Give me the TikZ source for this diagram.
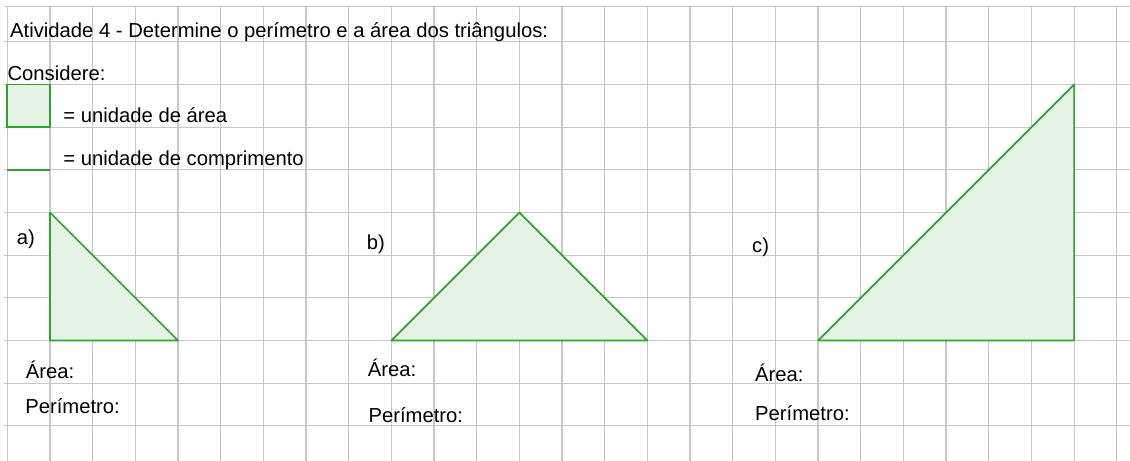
\documentclass[tikz,border=0pt]{standalone}
\usepackage{fontspec}
\setmainfont{Liberation Sans}
\usepackage{tikz}
\definecolor{verde}{RGB}{45,165,45}
\definecolor{verdeclaro}{RGB}{228,243,228}
\tikzstyle{grade} = [draw=black!22, line width=0.8pt]
\tikzstyle{texto} = [anchor=base west, inner sep=0pt, font=\fontsize{13.5}{16}\selectfont]
\tikzstyle{triangulo} = [draw=verde, fill=verdeclaro, line width=1.1pt, line join=round]
\tikzstyle{unidade} = [draw=verde, line width=1.1pt]

\begin{document}
\begin{tikzpicture}

\useasboundingbox (-0.171,-0.82) rectangle (26.31,9.98);

%% a malha quadriculada vai primeiro, por baixo de tudo
\foreach \x in {0,...,26}
  \draw [grade] (\x,-0.82) -- (\x,9.83);
\foreach \y in {0,...,9}
  \draw [grade] (-0.08,\y) -- (26.31,\y);
\draw [grade] (-0.08,9.83) -- (26.31,9.83);

\node (titulo) [texto] at (0.06,9.10) {Atividade 4 - Determine o perímetro e a área dos triângulos:};
\node (considere) [texto] at (0,8.085) {Considere:};

\filldraw [unidade, fill=verdeclaro] (0,7) rectangle (1,8);
\node (uarea) [texto] at (1.31,7.11) {= unidade de área};
\coordinate (u1) at (0,6);
\coordinate (u2) at (1,6);
\draw [unidade] (u1) -- (u2);
\node (ucomp) [texto] at (1.31,6.10) {= unidade de comprimento};

%% triangulo a
\coordinate (a1) at (1,5);
\coordinate (a2) at (1,2);
\coordinate (a3) at (4,2);
\draw [triangulo] (a1) -- (a2) -- (a3) -- cycle;
\node (rotuloa) [texto] at (0.22,4.24) {a)};
\node (areaa) [texto] at (0.43,1.10) {Área:};
\node (perima) [texto] at (0.415,0.28) {Perímetro:};

%% triangulo b
\coordinate (b1) at (9,2);
\coordinate (b2) at (12,5);
\coordinate (b3) at (15,2);
\draw [triangulo] (b1) -- (b2) -- (b3) -- cycle;
\node (rotulob) [texto] at (8.42,4.14) {b)};
\node (areab) [texto] at (8.44,1.16) {Área:};
\node (perimb) [texto] at (8.46,0.08) {Perímetro:};

%% triangulo c
\coordinate (c1) at (19,2);
\coordinate (c2) at (25,2);
\coordinate (c3) at (25,8);
\draw [triangulo] (c1) -- (c2) -- (c3) -- cycle;
\node (rotuloc) [texto] at (17.45,4.06) {c)};
\node (areac) [texto] at (17.52,1.04) {Área:};
\node (perimc) [texto] at (17.52,0.12) {Perímetro:};

\end{tikzpicture}
\end{document}
